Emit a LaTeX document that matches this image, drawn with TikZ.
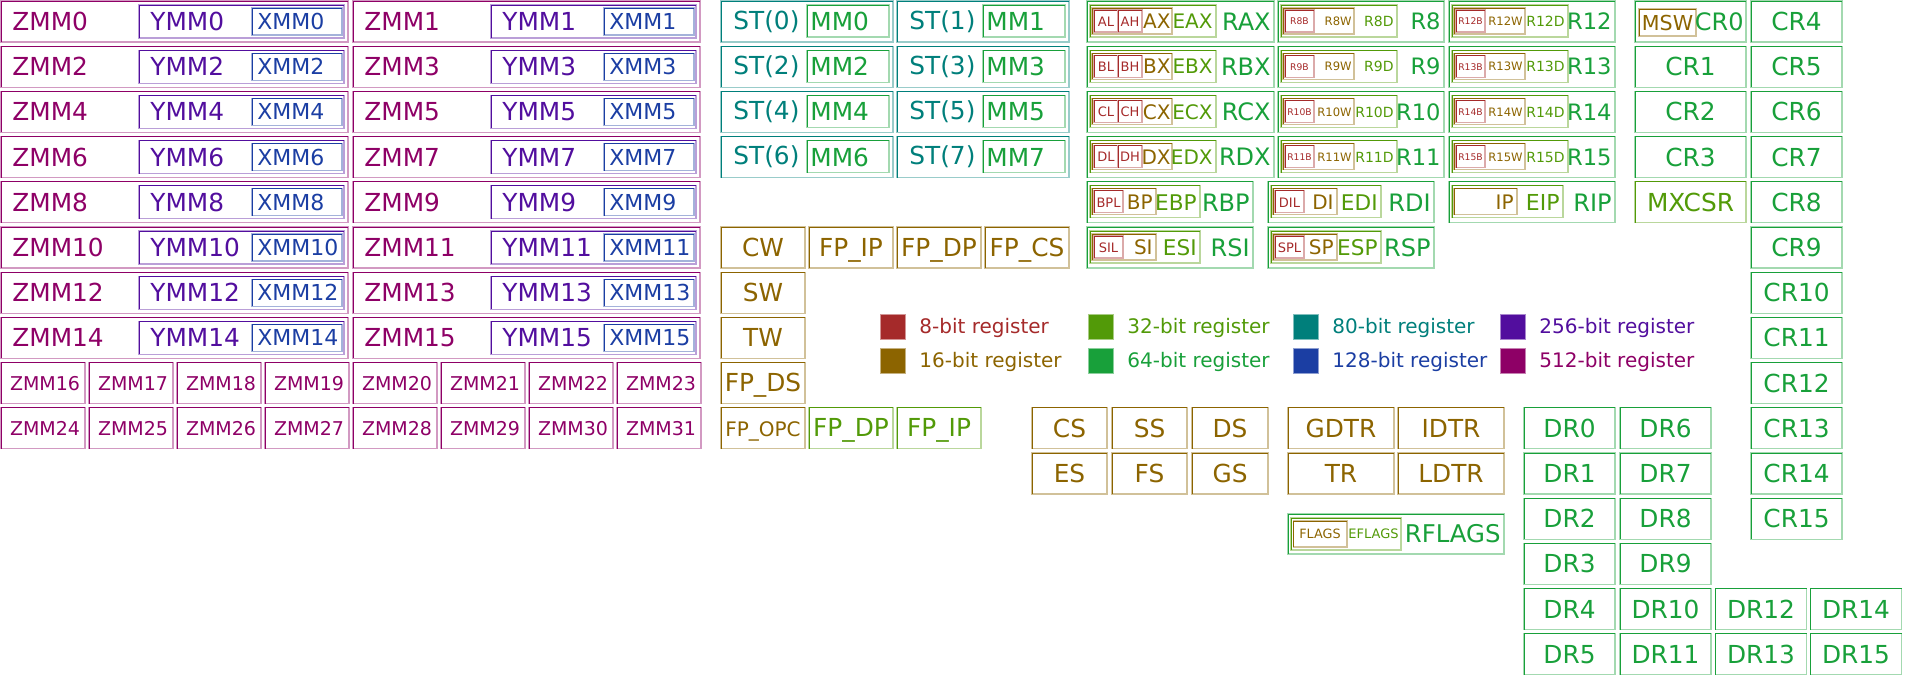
\documentclass[tikz,border=0pt]{standalone}
\usepackage{fontspec}
\setmainfont{DejaVu Sans}
\definecolor{c8}{HTML}{A52A2A}
\definecolor{c16}{HTML}{8C6400}
\definecolor{c32}{HTML}{529A08}
\definecolor{c64}{HTML}{18A03A}
\definecolor{c80}{HTML}{007F7B}
\definecolor{c128}{HTML}{1B3EA3}
\definecolor{c256}{HTML}{520E9E}
\definecolor{c512}{HTML}{8E0066}
\tikzset{
  lbl/.style 2 args={text=#1, font=\fontsize{#2}{#2}\selectfont, inner sep=0pt},
}
\newcommand{\regbox}[5]{%
  \draw[draw=#1!40, line width=0.6pt] (#2,#3) rectangle (#4,#5);
  \draw[draw=#1, line width=0.45pt] (#2,#5) |- (#4,#3);}

\begin{document}
\begin{tikzpicture}[x=0.5pt,y=-0.5pt]
\useasboundingbox (0,0) rectangle (1920,676);

\foreach \i in {0,...,15}{
  \pgfmathtruncatemacro{\rr}{int(\i/2)}
  \pgfmathtruncatemacro{\cc}{mod(\i,2)}
  \pgfmathsetmacro{\yy}{1+45.2*\rr}
  \pgfmathsetmacro{\xx}{1+352*\cc}
  \regbox{c512}{\xx}{\yy}{\xx+347}{\yy+41}
  \regbox{c256}{\xx+138}{\yy+4}{\xx+343}{\yy+37}
  \regbox{c128}{\xx+251}{\yy+7}{\xx+341}{\yy+34}
  \node[lbl={c512}{12.4}, anchor=west] (zmm\i) at (\xx+11,\yy+20.5) {ZMM\i};
  \node[lbl={c256}{12.4}, anchor=west] (ymm\i) at (\xx+149,\yy+20.5) {YMM\i};
  \node[lbl={c128}{11}, anchor=west] (xmm\i) at (\xx+256,\yy+20.5) {XMM\i};
}
\foreach \i in {16,...,31}{
  \pgfmathtruncatemacro{\rr}{8+int((\i-16)/8)}
  \pgfmathtruncatemacro{\cc}{mod(\i-16,8)}
  \pgfmathsetmacro{\yy}{1+45.2*\rr}
  \pgfmathsetmacro{\xx}{1+88*\cc}
  \regbox{c512}{\xx}{\yy}{\xx+84}{\yy+41}
  \node[lbl={c512}{9.5}] (zmm\i) at (\xx+44,\yy+20.5) {ZMM\i};
}

\foreach \i in {0,...,7}{
  \pgfmathtruncatemacro{\rr}{int(\i/2)}
  \pgfmathtruncatemacro{\cc}{mod(\i,2)}
  \pgfmathsetmacro{\yy}{1+45.2*\rr}
  \pgfmathsetmacro{\xx}{721+176*\cc}
  \regbox{c80}{\xx}{\yy}{\xx+172}{\yy+41}
  \regbox{c64}{\xx+86}{\yy+4}{\xx+168}{\yy+36}
  \node[lbl={c80}{12.4}, anchor=west] (st\i) at (\xx+12,\yy+20.5) {ST(\i)};
  \node[lbl={c64}{12.4}, anchor=west] (mm\i) at (\xx+89,\yy+20.5) {MM\i};
}
\foreach \xx/\rr/\id/\txt/\col/\sz in {721/5/cw/CW/c16/12.4, 809/5/fpip/FP\_IP/c16/12.4, 897/5/fpdp/FP\_DP/c16/12.4,
  985/5/fpcs/FP\_CS/c16/12.4, 721/6/sw/SW/c16/12.4, 721/7/tw/TW/c16/12.4, 721/8/fpds/FP\_DS/c16/12.4,
  721/9/fpopc/FP\_OPC/c16/10, 809/9/fpdpb/FP\_DP/c32/12.4, 897/9/fpipb/FP\_IP/c32/12.4}{
  \pgfmathsetmacro{\yy}{1+45.2*\rr}
  \regbox{\col}{\xx}{\yy}{\xx+84}{\yy+41}
  \node[lbl={\col}{\sz}, anchor=base] (\id) at (\xx+42,\yy+29) {\txt};
}

\foreach \rr/\lo/\hi/\wx/\ex/\rx in {0/AL/AH/AX/EAX/RAX, 1/BL/BH/BX/EBX/RBX, 2/CL/CH/CX/ECX/RCX, 3/DL/DH/DX/EDX/RDX}{
  \pgfmathsetmacro{\yy}{1+45.2*\rr}
  \regbox{c64}{1087}{\yy}{1274}{\yy+41}
  \regbox{c32}{1090}{\yy+4}{1216}{\yy+36}
  \regbox{c16}{1092}{\yy+7}{1172}{\yy+33}
  \regbox{c8}{1094}{\yy+9}{1118}{\yy+31}
  \regbox{c8}{1118}{\yy+9}{1142}{\yy+31}
  \node[lbl={c8}{6.5}] (\lo) at (1106,\yy+20.5) {\lo};
  \node[lbl={c8}{6.5}] (\hi) at (1130,\yy+20.5) {\hi};
  \node[lbl={c16}{10}, anchor=east] (\wx) at (1171,\yy+20.5) {\wx};
  \node[lbl={c32}{10}, anchor=east] (\ex) at (1213,\yy+20.5) {\ex};
  \node[lbl={c64}{12}, anchor=east] (\rx) at (1271,\yy+20.5) {\rx};
}
\foreach \xx/\rr/\n in {1278/0/8, 1278/1/9, 1278/2/10, 1278/3/11, 1449/0/12, 1449/1/13, 1449/2/14, 1449/3/15}{
  \pgfmathsetmacro{\yy}{1+45.2*\rr}
  \regbox{c64}{\xx}{\yy}{\xx+166}{\yy+41}
  \regbox{c32}{\xx+3}{\yy+4}{\xx+119}{\yy+36}
  \regbox{c16}{\xx+5}{\yy+7}{\xx+76}{\yy+33}
  \regbox{c8}{\xx+7}{\yy+9}{\xx+36}{\yy+31}
  \node[lbl={c8}{4.6}] (r\n b) at (\xx+21.5,\yy+20.5) {R\n B};
  \node[lbl={c16}{5.8}, anchor=east] (r\n w) at (\xx+74,\yy+20.5) {R\n W};
  \node[lbl={c32}{7}, anchor=east] (r\n d) at (\xx+116,\yy+20.5) {R\n D};
  \node[lbl={c64}{11.3}, anchor=east] (r\n) at (\xx+163,\yy+20.5) {R\n};
}
\foreach \xx/\rr/\lo/\wx/\ex/\rx in {1087/4/BPL/BP/EBP/RBP, 1268/4/DIL/DI/EDI/RDI, 1087/5/SIL/SI/ESI/RSI, 1268/5/SPL/SP/ESP/RSP}{
  \pgfmathsetmacro{\yy}{1+45.2*\rr}
  \regbox{c64}{\xx}{\yy}{\xx+166}{\yy+41}
  \regbox{c32}{\xx+3}{\yy+4}{\xx+113}{\yy+36}
  \regbox{c16}{\xx+5}{\yy+7}{\xx+69}{\yy+33}
  \regbox{c8}{\xx+7}{\yy+9}{\xx+36}{\yy+31}
  \node[lbl={c8}{6.5}] (\lo) at (\xx+21.5,\yy+20.5) {\lo};
  \node[lbl={c16}{10}, anchor=east] (\wx) at (\xx+66,\yy+20.5) {\wx};
  \node[lbl={c32}{10.8}, anchor=east] (\ex) at (\xx+110,\yy+20.5) {\ex};
  \node[lbl={c64}{12}, anchor=east] (\rx) at (\xx+163,\yy+20.5) {\rx};
}
\regbox{c64}{1449}{181.8}{1615}{222.8}
\regbox{c32}{1452}{185.8}{1563}{217.8}
\regbox{c16}{1454}{188.8}{1517}{214.8}
\node[lbl={c16}{10}, anchor=east] (ip) at (1514,202.3) {IP};
\node[lbl={c32}{11}, anchor=east] (eip) at (1560,202.3) {EIP};
\node[lbl={c64}{12}, anchor=east] (rip) at (1612,202.3) {RIP};

\regbox{c64}{1635}{1}{1746}{42}
\regbox{c16}{1639}{9}{1696}{36}
\node[lbl={c16}{10.3}] (msw) at (1667.5,22.5) {MSW};
\node[lbl={c64}{12}, anchor=east] (cr0) at (1744,21.5) {CR0};
\foreach \rr/\n/\col in {1/CR1/c64, 2/CR2/c64, 3/CR3/c64, 4/MXCSR/c32}{
  \pgfmathsetmacro{\yy}{1+45.2*\rr}
  \regbox{\col}{1635}{\yy}{1746}{\yy+41}
  \node[lbl={\col}{12.4}] (\n) at (1690.5,\yy+20.5) {\n};
}
\foreach \rr in {0,...,11}{
  \pgfmathsetmacro{\yy}{1+45.2*\rr}
  \pgfmathtruncatemacro{\n}{\rr+4}
  \regbox{c64}{1751}{\yy}{1842}{\yy+41}
  \node[lbl={c64}{12.4}] (cr\n) at (1796.5,\yy+20.5) {CR\n};
}
\foreach \n in {0,...,5}{
  \pgfmathsetmacro{\yy}{1+45.2*(\n+9)}
  \pgfmathtruncatemacro{\m}{\n+6}
  \regbox{c64}{1524}{\yy}{1615}{\yy+41}
  \regbox{c64}{1620}{\yy}{1711}{\yy+41}
  \node[lbl={c64}{12.4}] (dr\n) at (1569.5,\yy+20.5) {DR\n};
  \node[lbl={c64}{12.4}] (dr\m) at (1665.5,\yy+20.5) {DR\m};
}
\foreach \n/\xx/\rr in {12/1715.5/13, 13/1715.5/14, 14/1810.5/13, 15/1810.5/14}{
  \pgfmathsetmacro{\yy}{1+45.2*\rr}
  \regbox{c64}{\xx}{\yy}{\xx+91}{\yy+41}
  \node[lbl={c64}{12.4}] (dr\n) at (\xx+45.5,\yy+20.5) {DR\n};
}

\foreach \n/\xx/\rr/\w in {CS/1032/9/75, SS/1112/9/75, DS/1192/9/76, ES/1032/10/75, FS/1112/10/75, GS/1192/10/76,
  GDTR/1288/9/106, IDTR/1398/9/106, TR/1288/10/106, LDTR/1398/10/106}{
  \pgfmathsetmacro{\yy}{1+45.2*\rr}
  \regbox{c16}{\xx}{\yy}{\xx+\w}{\yy+41}
  \node[lbl={c16}{12.4}] (\n) at (\xx+\w/2,\yy+20.5) {\n};
}
\regbox{c64}{1288}{514}{1504}{554}
\regbox{c32}{1291}{518}{1401}{550}
\regbox{c16}{1293.5}{521}{1347}{547}
\node[lbl={c16}{6.4}] (flags) at (1320,534) {FLAGS};
\node[lbl={c32}{6.5}, anchor=east] (eflags) at (1399,534) {EFLAGS};
\node[lbl={c64}{12.2}, anchor=east] (rflags) at (1501,534) {RFLAGS};

\foreach \xx/\yy/\col/\txt in {880/314/c8/8, 880/348/c16/16, 1088/314/c32/32, 1088/348/c64/64,
  1293/314/c80/80, 1293/348/c128/128, 1500/314/c256/256, 1500/348/c512/512}{
  \filldraw[fill=\col, draw=\col!50, line width=0.5pt] (\xx,\yy) rectangle (\xx+25,\yy+25);
  \node[lbl={\col}{10}, anchor=base west] (leg\txt) at (\xx+39,\yy+19) {\txt-bit register};
}

\end{tikzpicture}
\end{document}
